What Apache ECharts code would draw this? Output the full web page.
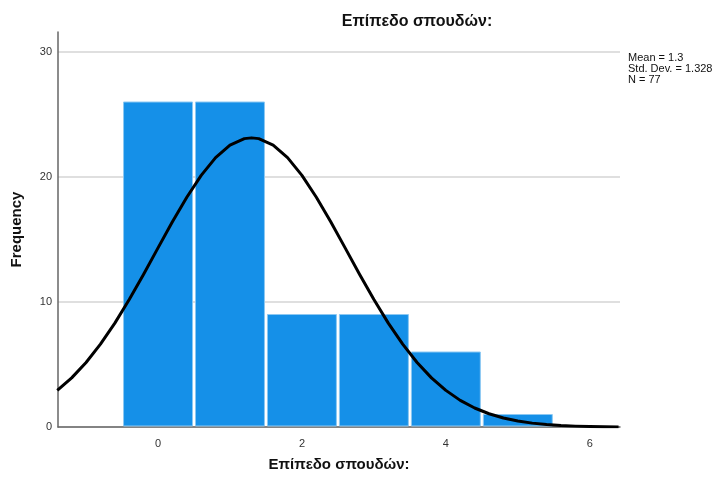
<!DOCTYPE html>
<html>
<head>
<meta charset="utf-8">
<script src="https://cdn.jsdelivr.net/npm/echarts@6/dist/echarts.min.js"></script>
<style>
html,body{margin:0;padding:0;background:#fff;}
#chart{width:720px;height:477px;}
</style>
</head>
<body>
<div id="chart"></div>
<script>
// Histogram bins (bin centre) and frequencies
const binCenters = [0, 1, 2, 3, 4, 5];
const frequencies = [26, 26, 9, 9, 6, 1];
// Normal curve (x, frequency)
const curveX = [-1.4,-1.2,-1.0,-0.8,-0.6,-0.4,-0.2,0,0.2,0.4,0.6,0.8,1.0,1.2,1.3,1.4,1.6,1.8,2.0,2.2,2.4,2.6,2.8,3.0,3.2,3.4,3.6,3.8,4.0,4.2,4.4,4.6,4.8,5.0,5.2,5.4,5.6,5.8,6.0,6.2,6.4];
const curveY = [2.93,3.93,5.16,6.63,8.31,10.2,12.22,14.33,16.42,18.38,20.13,21.55,22.55,23.07,23.13,23.07,22.55,21.55,20.13,18.38,16.42,14.33,12.22,10.2,8.31,6.63,5.16,3.93,2.93,2.13,1.52,1.06,0.72,0.48,0.31,0.2,0.12,0.07,0.04,0.02,0.01];
const xTicks = [0, 2, 4, 6];
const yTicks = [0, 10, 20, 30];
const titleText = 'Επίπεδο σπουδών:';
const statsLines = ['Mean = 1.3', 'Std. Dev. = 1.328', 'N = 77'];

const chart = echarts.init(document.getElementById('chart'), null, {renderer: 'canvas'});
const FONT = '"Liberation Sans", Arial, sans-serif';

const barData = binCenters.map((c, i) => [c, frequencies[i]]);
const curveData = curveX.map((x, i) => [x, curveY[i]]);

chart.setOption({
  animation: false,
  backgroundColor: '#fff',
  title: {
    text: titleText,
    left: 412, top: 9, textAlign: 'center',
    textStyle: {fontFamily: FONT, fontSize: 16, fontWeight: 'bold', color: '#111'}
  },
  graphic: [{
    type: 'text', left: 628, top: 52,
    style: {text: statsLines.join('\n'), fontFamily: FONT, fontSize: 11, lineHeight: 11, fill: '#111'}
  }],
  grid: {left: 58, right: 100, top: 32, bottom: 46, containLabel: false},
  xAxis: {
    type: 'value', min: -1.39, max: 6.42,
    name: titleText, nameLocation: 'middle', nameGap: 30,
    nameTextStyle: {fontFamily: FONT, fontSize: 15, fontWeight: 'bold', color: '#111'},
    axisLine: {show: true, onZero: false, lineStyle: {color: '#666', width: 1.5}},
    axisTick: {show: false, customValues: xTicks},
    axisLabel: {customValues: xTicks, fontFamily: FONT, fontSize: 11, color: '#333', margin: 11},
    splitLine: {show: false}
  },
  yAxis: {
    type: 'value', min: 0, max: 31.6,
    name: 'Frequency', nameLocation: 'middle', nameGap: 34,
    nameTextStyle: {fontFamily: FONT, fontSize: 15, fontWeight: 'bold', color: '#111'},
    axisLine: {show: true, onZero: false, lineStyle: {color: '#666', width: 1.5}},
    axisTick: {show: false, customValues: yTicks},
    axisLabel: {customValues: yTicks, fontFamily: FONT, fontSize: 11, color: '#333', margin: 6},
    splitLine: {show: true, lineStyle: {color: '#d4d4d4', width: 1.5}}
  },
  series: [{
    type: 'custom',
    data: barData,
    renderItem: function (params, api) {
      const c = api.value(0), v = api.value(1);
      const p0 = api.coord([c - 0.5, v]);
      const p1 = api.coord([c + 0.5, 0]);
      return {
        type: 'rect',
        shape: {x: p0[0] + 1.5, y: p0[1], width: p1[0] - p0[0] - 3, height: p1[1] - p0[1] - 1},
        style: {fill: '#1590e8', stroke: '#8cc8f2', lineWidth: 1}
      };
    },
    z: 2
  }, {
    type: 'line',
    data: curveData,
    smooth: false,
    showSymbol: false,
    lineStyle: {color: '#000', width: 3, join: 'round'},
    z: 3
  }]
});
</script>
</body>
</html>
